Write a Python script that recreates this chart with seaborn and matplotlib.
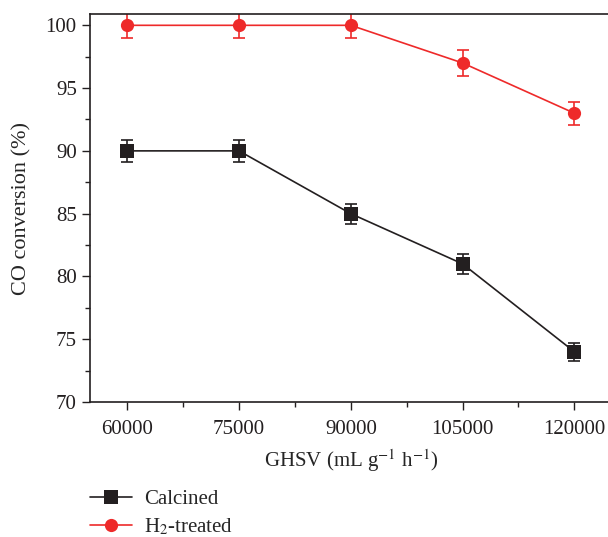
import pandas as pd
import matplotlib
matplotlib.use('Agg')
import matplotlib.pyplot as plt
import seaborn as sns
from matplotlib.ticker import MultipleLocator

ghsv = [60000, 75000, 90000, 105000, 120000]
calcined = [90, 90, 85, 81, 74]
calcined_err = [0.9, 0.9, 0.8, 0.8, 0.7]
h2_treated = [100, 100, 100, 97, 93]
h2_err = [1.0, 1.0, 1.0, 1.0, 0.9]
labels = ["Calcined", "H$_2$-treated"]
colors = ["#231f20", "#ee2a2a"]
markers = ["s", "o"]

df = pd.DataFrame({
    "ghsv": ghsv * 2,
    "conv": calcined + h2_treated,
    "err": calcined_err + h2_err,
    "sample": [labels[0]] * 5 + [labels[1]] * 5,
})

sns.set_style("ticks")
plt.rcParams['font.family'] = ['Liberation Serif', 'DejaVu Serif']
plt.rcParams['mathtext.fontset'] = 'stix'

fig = plt.figure(figsize=(6.08, 5.37), dpi=100)
ax = fig.add_axes([0.148, 0.2514, 0.858, 0.7225])

sns.lineplot(data=df, x="ghsv", y="conv", hue="sample", style="sample",
             palette=colors, markers=markers, dashes=False, markersize=9.5,
             markeredgewidth=0, linewidth=1.2, ax=ax, legend=True)

for lab, c in zip(labels, colors):
    sub = df[df["sample"] == lab]
    ax.errorbar(sub["ghsv"], sub["conv"], yerr=sub["err"], fmt="none",
                ecolor=c, elinewidth=1.2, capsize=4, capthick=1.2, zorder=1)

ax.set_xlim(55000, 125000)
ax.set_ylim(70, 100.9)
ax.set_xticks(ghsv)
ax.set_xticklabels([str(v) for v in ghsv])
ax.set_yticks([70, 75, 80, 85, 90, 95, 100])
ax.xaxis.set_minor_locator(MultipleLocator(7500))
ax.yaxis.set_minor_locator(MultipleLocator(2.5))
ax.tick_params(which="major", direction="out", length=6, width=1, labelsize=15, colors="#231f20")
ax.tick_params(which="minor", direction="out", length=3.5, width=1, colors="#231f20")
ax.tick_params(axis="x", pad=7)
for s in ax.spines.values():
    s.set_linewidth(1.2)
    s.set_color("#231f20")

ax.set_xlabel("GHSV (mL g$^{-1}$ h$^{-1}$)", fontsize=15, labelpad=6)
ax.set_ylabel("CO conversion (%)", fontsize=16, labelpad=10)

handles, _ = ax.get_legend_handles_labels()
ax.get_legend().remove()
fig.legend(handles, labels, loc="upper left", bbox_to_anchor=(0.148, 0.088),
           frameon=False, fontsize=15, handlelength=2.0, labelspacing=0.35,
           handletextpad=0.6, borderaxespad=0, borderpad=0)

fig.savefig("out.png", dpi=100)
